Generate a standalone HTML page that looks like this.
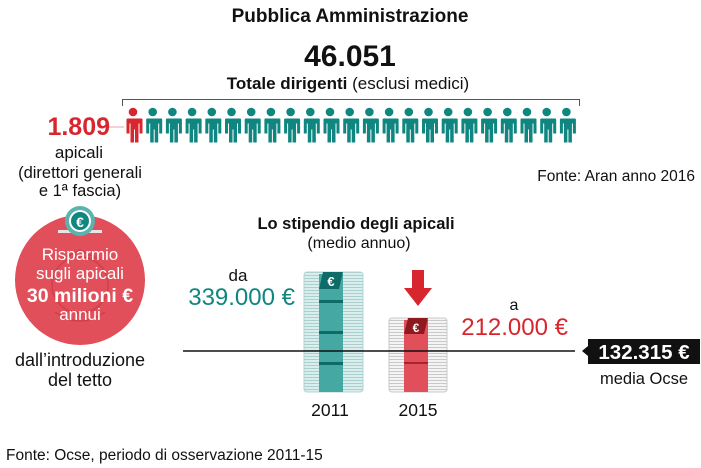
<!DOCTYPE html>
<html><head><meta charset="utf-8"><style>
html,body{margin:0;padding:0;background:#fff;width:701px;height:468px;overflow:hidden}
svg{display:block;font-family:"Liberation Sans",sans-serif}
</style></head><body>
<svg width="701" height="468" viewBox="0 0 701 468" xmlns="http://www.w3.org/2000/svg">
<defs>
<g id="p">
<circle cx="0" cy="0" r="4.3"/>
<path d="M-8.5,6.5 h17 a1,1 0 0 1 1,1 v14 h-3 v-10 h-1 v19 h-3.5 v-13 h-1 v13 h-3.5 v-19 h-1 v10 h-3 v-14 a1,1 0 0 1 1,-1z"/>
</g>
<pattern id="lines" width="4" height="3" patternUnits="userSpaceOnUse">
<rect width="4" height="3" fill="#f4f4f4"/><rect y="2" width="4" height="1" fill="#c8c8c8"/>
</pattern>
<pattern id="linesT" width="4" height="3" patternUnits="userSpaceOnUse">
<rect width="4" height="3" fill="#dbeeee"/><rect y="2" width="4" height="1" fill="#a9cfcf"/>
</pattern>
</defs>
<text x="350" y="22" text-anchor="middle" font-size="19" font-weight="bold" fill="#111">Pubblica Amministrazione</text>
<text x="350" y="66" text-anchor="middle" font-size="30" font-weight="bold" fill="#111">46.051</text>
<text x="348" y="89" text-anchor="middle" font-size="17" fill="#111"><tspan font-weight="bold">Totale dirigenti</tspan> (esclusi medici)</text>
<path d="M122.5,106 V99.5 H579.5 V106" fill="none" stroke="#555" stroke-width="1"/>
<line x1="106" y1="127" x2="124" y2="127" stroke="#e8a0a4" stroke-width="1"/>
<g fill="#d7262d"><use href="#p" x="133" y="112"/></g>
<g fill="#0f8680">
<use href="#p" x="152.7" y="112"/><use href="#p" x="172.4" y="112"/><use href="#p" x="192.1" y="112"/><use href="#p" x="211.8" y="112"/><use href="#p" x="231.5" y="112"/><use href="#p" x="251.2" y="112"/><use href="#p" x="270.9" y="112"/><use href="#p" x="290.6" y="112"/><use href="#p" x="310.3" y="112"/><use href="#p" x="330" y="112"/><use href="#p" x="349.7" y="112"/><use href="#p" x="369.4" y="112"/><use href="#p" x="389.1" y="112"/><use href="#p" x="408.8" y="112"/><use href="#p" x="428.5" y="112"/><use href="#p" x="448.2" y="112"/><use href="#p" x="467.9" y="112"/><use href="#p" x="487.6" y="112"/><use href="#p" x="507.3" y="112"/><use href="#p" x="527" y="112"/><use href="#p" x="546.7" y="112"/><use href="#p" x="566.4" y="112"/>
</g>
<text x="110" y="135" text-anchor="end" font-size="25" font-weight="bold" fill="#d7262d">1.809</text>
<text x="79" y="158" text-anchor="middle" font-size="17" fill="#111">apicali</text>
<text x="80" y="178" text-anchor="middle" font-size="16.5" fill="#111">(direttori generali</text>
<text x="80" y="196" text-anchor="middle" font-size="16.5" fill="#111">e 1ª fascia)</text>
<text x="695" y="181" text-anchor="end" font-size="15.5" fill="#111">Fonte: Aran anno 2016</text>

<circle cx="80" cy="280" r="65" fill="#e04f5a"/>
<g fill="none" stroke="#cf3b46" stroke-width="1.5" opacity="0.8">
<circle cx="80" cy="285" r="28"/><path d="M55,312 q25,18 50,0"/><path d="M60,260 l20,-10 l20,10"/>
</g>
<rect x="58" y="230" width="44" height="3" fill="#e6e6e6"/>
<circle cx="80" cy="221" r="15" fill="#5bb3ad"/>
<circle cx="80" cy="221" r="11" fill="#fff"/>
<circle cx="80" cy="221" r="9" fill="#0f8680"/>
<text x="80" y="227" text-anchor="middle" font-size="14" font-weight="bold" fill="#fff">€</text>
<text x="80" y="260" text-anchor="middle" font-size="17" fill="#fff">Risparmio</text>
<text x="80" y="279" text-anchor="middle" font-size="17" fill="#fff">sugli apicali</text>
<text x="80" y="302" text-anchor="middle" font-size="19.5" font-weight="bold" fill="#fff">30 milioni €</text>
<text x="80" y="320" text-anchor="middle" font-size="17" fill="#fff">annui</text>
<text x="80" y="366" text-anchor="middle" font-size="18" fill="#111">dall’introduzione</text>
<text x="80" y="386" text-anchor="middle" font-size="18" fill="#111">del tetto</text>

<text x="356" y="229" text-anchor="middle" font-size="16.5" font-weight="bold" fill="#111">Lo stipendio degli apicali</text>
<text x="359" y="248" text-anchor="middle" font-size="16" fill="#111">(medio annuo)</text>
<text x="238" y="281" text-anchor="middle" font-size="17" fill="#111">da</text>
<text x="295" y="305" text-anchor="end" font-size="24" fill="#0f8680">339.000 €</text>

<rect x="304" y="272" width="59" height="120" rx="3" fill="url(#linesT)" stroke="#b0d4d4" stroke-width="1"/>
<rect x="319" y="274" width="24" height="118" fill="#45a8a3"/>
<path d="M323,272 h20 l-4,17 h-20z" fill="#0f6b67"/>
<text x="331" y="286" text-anchor="middle" font-size="13" font-weight="bold" fill="#fff">€</text>
<rect x="319" y="300" width="24" height="3" fill="#0f6b67"/>
<rect x="319" y="331" width="24" height="3" fill="#0f6b67"/>
<rect x="319" y="362" width="24" height="3" fill="#0f6b67"/>
<rect x="389" y="318" width="58" height="74" rx="3" fill="url(#lines)" stroke="#c8c8c8" stroke-width="1"/>
<rect x="404" y="320" width="24" height="72" fill="#e04f5a"/>
<path d="M408,318 h20 l-4,16 h-20z" fill="#8e1a20"/>
<text x="416" y="332" text-anchor="middle" font-size="12" font-weight="bold" fill="#fff">€</text>
<rect x="404" y="362" width="24" height="2" fill="#a8252c"/>
<path d="M412,270 h12 v18 h8 l-14,18 l-14,-18 h8z" fill="#d7262d"/>

<line x1="183" y1="351" x2="575" y2="351" stroke="#111" stroke-width="1.6"/>
<path d="M582,351 l6,-5 v10z" fill="#111"/>
<rect x="588" y="339" width="112" height="25" fill="#111"/>
<text x="644" y="359" text-anchor="middle" font-size="20.5" font-weight="bold" fill="#fff">132.315 €</text>
<text x="644" y="384" text-anchor="middle" font-size="16.5" fill="#111">media Ocse</text>
<text x="514" y="310" text-anchor="middle" font-size="16" fill="#111">a</text>
<text x="568" y="335" text-anchor="end" font-size="24" fill="#d7262d">212.000 €</text>

<text x="330" y="416" text-anchor="middle" font-size="17.5" fill="#111">2011</text>
<text x="418" y="416" text-anchor="middle" font-size="17.5" fill="#111">2015</text>
<text x="6" y="460" font-size="15.5" fill="#111">Fonte: Ocse, periodo di osservazione 2011-15</text>
</svg>
</body></html>
